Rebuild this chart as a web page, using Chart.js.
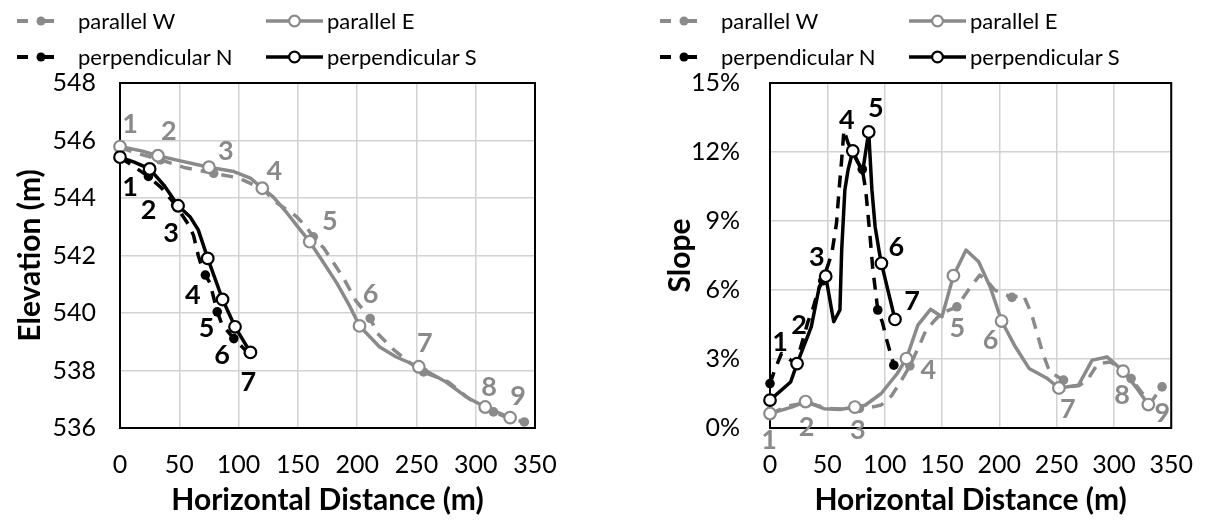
<!DOCTYPE html>
<html>
<head>
<meta charset="utf-8">
<script src="https://cdn.jsdelivr.net/npm/chart.js@4.4.1/dist/chart.umd.min.js"></script>
<style>
  html, body { margin: 0; padding: 0; background: #fff; }
  body { width: 1215px; height: 520px; position: relative; overflow: hidden; font-family: Lato, "DejaVu Sans", sans-serif; }
  .panel { position: absolute; top: 0; height: 520px; }
  .legend { position: absolute; top: 0; height: 80px; width: 600px; }
  .item { position: absolute; height: 30px; line-height: 30px; font-size: 22px; color: #000; white-space: nowrap; }
  .item svg { position: absolute; top: 0; }
</style>
</head>
<body>
<div class="panel" style="left:0;width:607px"><canvas id="elev" width="607" height="520"></canvas></div>
<div class="panel" style="left:607px;width:608px"><canvas id="slope" width="608" height="520"></canvas></div>
<div class="legend" id="legL" style="left:0"></div>
<div class="legend" id="legR" style="left:643px"></div>
<script>
// ---------- Elevation profiles (m) vs horizontal distance (m) ----------
const elevDistW = [0, 15, 34, 55, 79, 100, 121, 130, 149, 157, 163, 172, 188, 199, 211, 217, 230, 245, 256, 277, 295, 315, 330, 341];
const elevW     = [545.75, 545.55, 545.33, 545.05, 544.86, 544.70, 544.30, 543.90, 543.35, 543.00, 542.65, 542.25, 541.25, 540.42, 539.81, 539.30, 538.75, 538.25, 537.95, 537.60, 537.00, 536.56, 536.30, 536.21];
const elevStnW  = ['1', null, '2', null, '3', null, '4', null, null, null, '5', null, null, null, '6', null, null, null, '7', null, null, '8', null, '9'];

const elevDistE = [0, 19, 32, 50, 75, 96, 110, 120, 129, 141, 152, 160, 172, 183, 194, 202, 219, 233, 252, 275, 292, 308, 329];
const elevE     = [545.79, 545.63, 545.47, 545.30, 545.07, 544.92, 544.69, 544.34, 544.05, 543.47, 542.89, 542.48, 541.73, 541.03, 540.22, 539.55, 538.82, 538.47, 538.13, 537.60, 537.08, 536.73, 536.36];
const elevStnE  = ['1', null, '2', null, '3', null, null, '4', null, null, null, '5', null, null, null, '6', null, null, '7', null, null, '8', '9'];

const elevDistN = [0, 8, 24, 35, 47, 58, 62, 66, 69, 72, 76, 82, 86, 96, 108.5];
const elevN     = [545.40, 545.20, 544.75, 544.35, 543.75, 543.06, 542.70, 542.00, 541.60, 541.32, 541.03, 540.04, 539.60, 539.11, 538.60];
const elevStnN  = ['1', null, '2', null, '3', null, null, null, null, '4', null, '5', null, '6', '7'];

const elevDistS = [0, 12, 25, 37, 49, 59, 66, 74, 86.5, 97, 110];
const elevS     = [545.42, 545.25, 545.01, 544.45, 543.73, 543.35, 542.89, 541.90, 540.47, 539.52, 538.63];
const elevStnS  = ['1', null, '2', null, '3', null, null, '4', '5', '6', '7'];

// ---------- Slope (%) vs horizontal distance (m) ----------
const slopeDistW = [0, 15, 33, 50, 65, 78, 90, 97, 106, 115, 122, 131, 136, 144, 150, 163, 175, 183, 190, 196, 211, 221, 228, 238, 244, 256, 262, 270, 277, 286, 297, 305, 315, 325, 332, 342];
const slopeW     = [0.60, 0.95, 1.10, 0.85, 0.82, 0.85, 0.92, 1.00, 1.40, 2.10, 2.70, 3.67, 4.25, 4.70, 5.00, 5.27, 6.14, 6.65, 6.36, 6.00, 5.68, 5.78, 4.98, 3.24, 2.44, 2.08, 1.80, 1.85, 2.10, 2.80, 2.87, 2.60, 2.15, 1.50, 1.10, 1.79];
const slopeStnW  = ['1', null, '2', null, null, '3', null, null, null, null, '4', null, null, null, null, '5', null, null, null, null, '6', null, null, null, null, '7', null, null, null, null, null, null, '8', null, null, '9'];

const slopeDistE = [0, 19, 31, 47, 61, 74, 83, 97, 111, 119, 129, 140, 150, 160, 171, 182, 192, 202, 214, 226, 242, 252, 269, 281, 294, 303, 308, 319, 330];
const slopeE     = [0.63, 0.91, 1.15, 0.84, 0.80, 0.91, 0.99, 1.50, 2.37, 3.02, 4.47, 5.16, 4.84, 6.62, 7.74, 7.23, 6.14, 4.65, 3.53, 2.59, 2.15, 1.74, 1.86, 2.95, 3.09, 2.70, 2.47, 1.79, 1.02];
const slopeStnE  = ['1', null, '2', null, null, '3', null, null, null, '4', null, null, null, '5', null, null, null, '6', null, null, null, '7', null, null, null, null, '8', null, '9'];

const slopeDistN = [0, 4, 10, 18, 23, 33, 37.5, 42, 46, 54, 58, 60, 62.5, 64.5, 68, 72, 76, 80.5, 83.5, 87.5, 89.5, 94, 98, 102, 108];
const slopeN     = [1.93, 2.50, 3.24, 2.95, 2.85, 4.60, 5.20, 6.00, 6.40, 7.60, 8.90, 10.20, 11.66, 12.95, 12.40, 12.00, 11.60, 11.25, 10.35, 8.20, 7.00, 5.13, 4.60, 3.80, 2.73];
const slopeStnN  = ['1', null, null, null, '2', null, null, null, '3', null, null, null, null, null, null, '4', null, '5', null, null, null, '6', null, null, '7'];

const slopeDistS = [0, 18, 23.6, 36, 43, 48.6, 55.6, 61, 62.5, 65.3, 68, 72.2, 77.8, 80.6, 86.1, 88.9, 91.7, 95.5, 97.2, 109];
const slopeS     = [1.21, 2.00, 2.80, 4.40, 6.14, 6.60, 4.62, 5.13, 7.70, 10.35, 11.20, 12.05, 11.44, 11.08, 12.87, 10.35, 8.75, 7.60, 7.16, 4.72];
const slopeStnS  = ['1', null, '2', null, null, '3', null, null, null, null, null, '4', null, null, '5', null, null, null, '6', '7'];

// Axis ticks
const distTicks  = { min: 0, max: 350, step: 50 };
const elevTicks  = { min: 536, max: 548, step: 2 };
const slopeTicks = { min: 0, max: 15, step: 3 };

const seriesNames = ['parallel W', 'parallel E', 'perpendicular N', 'perpendicular S'];

// ---------- styling ----------
const GRAY = '#8a8a8a';
const BLACK = '#000000';
const GRID = '#d2d2d2';
const STYLE = [
  { color: GRAY,  dashed: true,  open: false, order: 4 },
  { color: GRAY,  dashed: false, open: true,  order: 3 },
  { color: BLACK, dashed: true,  open: false, order: 2 },
  { color: BLACK, dashed: false, open: true,  order: 1 }
];

Chart.defaults.font.family = 'Lato, "DejaVu Sans", sans-serif';
Chart.defaults.color = '#000';

function makeDataset(k, dist, vals, stn) {
  const s = STYLE[k];
  return {
    label: seriesNames[k],
    order: s.order,
    data: dist.map((x, i) => ({ x: x, y: vals[i] })),
    stations: stn,
    borderColor: s.color,
    borderWidth: 3.5,
    borderDash: s.dashed ? [12, 9] : [],
    borderCapStyle: 'butt',
    borderJoinStyle: 'round',
    tension: 0,
    fill: false,
    clip: false,
    pointStyle: 'circle',
    pointRadius: c => stn[c.dataIndex] ? (s.open ? 5.8 : 4.8) : 0,
    pointHoverRadius: c => stn[c.dataIndex] ? (s.open ? 5.8 : 4.8) : 0,
    pointBackgroundColor: s.open ? '#ffffff' : s.color,
    pointBorderColor: s.color,
    pointBorderWidth: s.open ? 2.2 : 0,
    pointHitRadius: 0
  };
}

// black frame around the plot area, drawn under the lines
const framePlugin = {
  id: 'frame',
  beforeDatasetsDraw(chart) {
    const { ctx, chartArea: a } = chart;
    ctx.save();
    ctx.strokeStyle = '#000';
    ctx.lineWidth = 2;
    ctx.strokeRect(a.left, a.top, a.right - a.left, a.bottom - a.top);
    ctx.restore();
  }
};

// station numbers next to the markers
function stationLabelPlugin(sets) {
  return {
    id: 'stationLabels',
    afterDatasetsDraw(chart) {
      const ctx = chart.ctx;
      ctx.save();
      ctx.font = 'bold 27px Lato, "DejaVu Sans", sans-serif';
      ctx.textAlign = 'center';
      ctx.textBaseline = 'middle';
      sets.forEach(set => {
        const ds = chart.data.datasets[set.index];
        const meta = chart.getDatasetMeta(set.index);
        ctx.fillStyle = set.color;
        let k = 0;
        ds.stations.forEach((s, i) => {
          if (!s) return;
          const p = meta.data[i];
          const off = set.offsets[k++] || [0, 0];
          ctx.fillText(s, p.x + off[0], p.y + off[1]);
        });
      });
      ctx.restore();
    }
  };
}

function axisX() {
  return {
    type: 'linear',
    min: distTicks.min, max: distTicks.max,
    ticks: { stepSize: distTicks.step, padding: 22, font: { size: 25 }, color: '#000', maxRotation: 0 },
    grid: { color: GRID, lineWidth: 1.5, drawTicks: false },
    border: { display: false },
    title: { display: true, text: 'Horizontal Distance (m)', color: '#000',
             font: { size: 30, weight: 'bold' }, padding: { top: 0, bottom: 2 } },
    afterFit(s) { s.height = 92; }
  };
}

function axisY(t, title, width, tickPad, titlePad, fmt) {
  return {
    type: 'linear',
    min: t.min, max: t.max,
    ticks: { stepSize: t.step, padding: tickPad, font: { size: 25 }, color: '#000',
             callback: fmt || (v => v) },
    grid: { color: GRID, lineWidth: 1.5, drawTicks: false },
    border: { display: false },
    title: { display: true, text: title, color: '#000',
             font: { size: 30, weight: 'bold' }, padding: { top: titlePad, bottom: 0 } },
    afterFit(s) { s.width = width; }
  };
}

function baseOptions(padRight, yAxis) {
  return {
    responsive: false,
    animation: false,
    devicePixelRatio: 1,
    layout: { padding: { top: 83, right: padRight, left: 0, bottom: 0 } },
    plugins: { legend: { display: false }, tooltip: { enabled: false } },
    events: [],
    scales: { x: axisX(), y: yAxis }
  };
}

// Elevation chart
new Chart(document.getElementById('elev'), {
  type: 'line',
  data: { datasets: [
    makeDataset(0, elevDistW, elevW, elevStnW),
    makeDataset(1, elevDistE, elevE, elevStnE),
    makeDataset(2, elevDistN, elevN, elevStnN),
    makeDataset(3, elevDistS, elevS, elevStnS)
  ] },
  options: baseOptions(72, axisY(elevTicks, 'Elevation (m)', 120, 24, 12)),
  plugins: [framePlugin, stationLabelPlugin([
    { index: 1, color: GRAY, offsets: [[10, -22], [11, -24], [17, -16], [12, -17], [20, -20], [11, -32], [6, -23], [4, -20], [8, -21]] },
    { index: 3, color: BLACK, offsets: [[10, 30], [-1, 41], [-7, 28], [-15, 37], [-16, 29], [-13, 28], [-2, 30]] }
  ])]
});

// Slope chart
new Chart(document.getElementById('slope'), {
  type: 'line',
  data: { datasets: [
    makeDataset(0, slopeDistW, slopeW, slopeStnW),
    makeDataset(1, slopeDistE, slopeE, slopeStnE),
    makeDataset(2, slopeDistN, slopeN, slopeStnN),
    makeDataset(3, slopeDistS, slopeS, slopeStnS)
  ] },
  options: baseOptions(25, axisY(slopeTicks, 'Slope', 163, 30, 55, v => v + '%')),
  plugins: [framePlugin, stationLabelPlugin([
    { index: 1, color: GRAY, offsets: [[-1, 27], [1, 26], [3, 23], [22, 12], [4, 53], [-11, 19], [9, 21], [-1, 24], [14, 9]] },
    { index: 3, color: BLACK, offsets: [[10, -58], [2, -38], [-9, -19], [-6, -31], [7, -24], [15, -16], [17, -18]] }
  ])]
});

// Legends (2 x 2 grid above each chart)
function buildLegend(el) {
  const cols = [{ sym: 17, text: 78 }, { sym: 266, text: 327 }];
  const rows = [6, 42];
  seriesNames.forEach((name, k) => {
    const s = STYLE[k];
    const c = cols[k % 2], top = rows[Math.floor(k / 2)];
    const item = document.createElement('div');
    item.className = 'item';
    item.style.left = c.sym + 'px';
    item.style.top = top + 'px';
    const w = c.text - c.sym - 4;
    let svg;
    if (s.dashed) {
      svg = `<svg width="${w}" height="30" viewBox="0 0 ${w} 30">
        <line x1="0" y1="15" x2="11" y2="15" stroke="${s.color}" stroke-width="4"/>
        <line x1="21" y1="15" x2="37" y2="15" stroke="${s.color}" stroke-width="4"/>
        <circle cx="24" cy="15" r="4.5" fill="${s.color}"/></svg>`;
    } else {
      svg = `<svg width="${w}" height="30" viewBox="0 0 ${w} 30">
        <line x1="0" y1="15" x2="${w}" y2="15" stroke="${s.color}" stroke-width="3.5"/>
        <circle cx="${w / 2}" cy="15" r="5.4" fill="#fff" stroke="${s.color}" stroke-width="2.2"/></svg>`;
    }
    item.innerHTML = svg + `<span style="position:absolute;left:${c.text - c.sym}px;top:0">${name}</span>`;
    el.appendChild(item);
  });
}
buildLegend(document.getElementById('legL'));
buildLegend(document.getElementById('legR'));
</script>
</body>
</html>
